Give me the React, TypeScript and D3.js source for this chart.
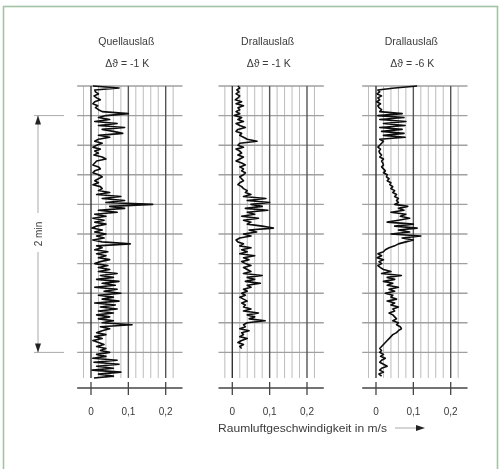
import React from "react";
import * as d3 from "d3";

// panel titles
const titles = ["Quellauslaß", "Drallauslaß", "Drallauslaß"];
const deltas = ["Δϑ = -1 K", "Δϑ = -1 K", "Δϑ = -6 K"];

// air velocity in m/s, one value per second (time runs downward)
const quellMinus1 = [
  0.005, 0.075, 0.01,
  0.012, 0.02, 0.008, 0.015, 0.025, 0.01, 0.005, 0.018, 0.012, 0.02,
  0.03, 0.1, 0.04, 0.02,
  0.05, 0.01, 0.07, 0.02, 0.09, 0.03, 0.06, 0.085, 0.02, 0.05,
  0.02, 0.01, 0.03, 0.015, 0.005, 0.025, 0.01, 0.02, 0.008,
  0.03, 0.04, 0.015,
  0.01, 0.005, 0.02, 0.025, 0.01, 0.005, 0.02, 0.03, 0.02, 0.01, 0.02, 0.005, 0.025, 0.03,
  0.02, 0.05, 0.015, 0.08, 0.03, 0.09, 0.04, 0.165, 0.05, 0.09, 0.02, 0.07, 0.01,
  0.04, 0.005, 0.035, 0.01, 0.04, 0.015, 0.003, 0.03, 0.01, 0.04, 0.015, 0.035, 0.005, 0.03,
  0.105, 0.015,
  0.03, 0.01, 0.045, 0.015, 0.04, 0.02, 0.05, 0.025, 0.01, 0.045, 0.02, 0.05,
  0.02, 0.07, 0.025, 0.06, 0.015, 0.075, 0.03, 0.065, 0.01, 0.07, 0.035, 0.08, 0.02, 0.06, 0.03, 0.075, 0.01, 0.065, 0.025, 0.07, 0.02, 0.06, 0.015,
  0.05, 0.02, 0.06, 0.03, 0.11, 0.025, 0.05,
  0.03, 0.015, 0.04, 0.01, 0.03, 0.005, 0.02, 0.035, 0.015, 0.04, 0.025, 0.05, 0.015, 0.04,
  0.005, 0.07, 0.008, 0.075, 0.015, 0.06, 0.003, 0.08, 0.02, 0.06, 0.008,
];

const drallMinus1 = [
  0.015, 0.02, 0.012, 0.018, 0.01, 0.02, 0.015,
  0.008, 0.025, 0.01, 0.03, 0.015, 0.02,
  0.01, 0.02, 0.005, 0.025, 0.015, 0.03, 0.01, 0.02, 0.035, 0.015, 0.01, 0.025, 0.02, 0.03,
  0.04, 0.066, 0.02,
  0.015, 0.03, 0.01, 0.02, 0.025, 0.015, 0.03, 0.02, 0.01, 0.025, 0.035, 0.02, 0.03, 0.025, 0.035, 0.03, 0.02, 0.025, 0.03, 0.02, 0.015, 0.025,
  0.03, 0.04, 0.035, 0.05,
  0.03, 0.09, 0.04, 0.1, 0.05, 0.08, 0.035, 0.095, 0.04,
  0.06, 0.025, 0.07, 0.03, 0.05, 0.04, 0.08, 0.11, 0.045, 0.065, 0.03, 0.05,
  0.02, 0.01, 0.015, 0.03, 0.02, 0.05, 0.025, 0.04, 0.02, 0.06, 0.03, 0.045, 0.025, 0.035, 0.05, 0.03, 0.04,
  0.05, 0.03, 0.08, 0.04, 0.06, 0.035, 0.075, 0.04, 0.05,
  0.03, 0.04, 0.025, 0.035, 0.02, 0.03, 0.04, 0.025, 0.035, 0.03,
  0.05, 0.03, 0.07, 0.04, 0.06, 0.045, 0.088,
  0.04, 0.03, 0.035, 0.02, 0.045, 0.025, 0.03, 0.02, 0.04, 0.025, 0.015, 0.03,
  0.02, 0.025,
];

const drallMinus6 = [
  0.11, 0.05, 0.005,
  0.01, 0.003, 0.015, 0.005, 0.01, 0.002, 0.012, 0.005, 0.008, 0.015,
  0.01, 0.07, 0.005, 0.075, 0.01, 0.08, 0.02, 0.078, 0.01, 0.07, 0.015, 0.075, 0.02, 0.078, 0.01, 0.02, 0.015,
  0.01, 0.005, 0.012, 0.008, 0.01, 0.015, 0.01, 0.02, 0.015, 0.018, 0.02, 0.015,
  0.02, 0.025, 0.02, 0.03, 0.028, 0.035, 0.03, 0.04, 0.037, 0.045, 0.04, 0.05, 0.045, 0.055, 0.05, 0.06, 0.055, 0.06,
  0.05, 0.085, 0.06, 0.075, 0.04, 0.08, 0.065, 0.09,
  0.06, 0.03, 0.1, 0.05, 0.11, 0.06, 0.09, 0.04, 0.12, 0.07, 0.1,
  0.08, 0.06, 0.05, 0.035, 0.025, 0.02,
  0.005, 0.015, 0.003, 0.02, 0.008, 0.015, 0.005, 0.012,
  0.02, 0.04, 0.015, 0.068, 0.03, 0.05, 0.02, 0.045, 0.03, 0.06, 0.035, 0.05, 0.025, 0.045, 0.04, 0.055, 0.03, 0.05, 0.04, 0.06, 0.045, 0.05, 0.035, 0.045,
  0.05, 0.055, 0.045, 0.06, 0.055, 0.065, 0.068, 0.06, 0.055, 0.045,
  0.04, 0.035, 0.03, 0.025, 0.02, 0.015, 0.01,
  0.015, 0.01, 0.02, 0.012, 0.025, 0.015, 0.01, 0.02, 0.03, 0.015, 0.01, 0.02, 0.008, 0.015,
];

const series = [quellMinus1, drallMinus1, drallMinus6];

const xTicks = [0, 0.1, 0.2];
const xTickLabels = ["0", "0,1", "0,2"];
const minorLines = [-0.02, 0.02, 0.04, 0.06, 0.08, 0.12, 0.14, 0.16, 0.18, 0.22];
const timeLines = [0, 15, 30, 45, 60, 75, 90, 105, 120, 135]; // seconds

export default function App() {
  const W = 501, H = 469;
  const y = d3.scaleLinear().domain([0, 150]).range([86, 382]);
  const panelX0 = [91, 232.3, 376];
  const gridBottom = y(148);
  const axisY = 388;
  const font = "Arial, 'Liberation Sans', sans-serif";
  const txt = "#3a3a3a";

  const line = (x: d3.ScaleLinear<number, number>) =>
    d3.line<number>()
      .x(d => x(d))
      .y((_, i) => y(i));

  return (
    <svg width={W} height={H} style={{position: "absolute", left: 0, top: 0, background: "#fff"}}>
      <defs>
        <filter id="soft" x="-5%" y="-5%" width="110%" height="110%">
          <feGaussianBlur stdDeviation="0.55"/>
        </filter>
      </defs>
      <rect x={0} y={0} width={W} height={H} fill="#fff"/>
      <rect x={3.5} y={6.5} width={494} height={470} fill="none" stroke="#a3c3a5" strokeWidth={1.6}/>

      <g filter="url(#soft)">
        {series.map((vals, p) => {
          const x = d3.scaleLinear().domain([0, 0.2]).range([panelX0[p], panelX0[p] + 74.7]);
          const cx = x(0.1);
          return (
            <g key={p}>
              <text x={cx - 2} y={45} textAnchor="middle" fontFamily={font} fontSize={10.5} fill={txt}>{titles[p]}</text>
              <text x={cx - 1} y={67} textAnchor="middle" fontFamily={font} fontSize={10.5} fill={txt}>{deltas[p]}</text>

              {minorLines.map(v => (
                <line key={"m" + v} x1={x(v)} x2={x(v)} y1={y(0)} y2={gridBottom} stroke="#bdbdbd" strokeWidth={1}/>
              ))}
              {timeLines.map(t => (
                <line key={"h" + t} x1={x(-0.037)} x2={x(0.245)} y1={y(t)} y2={y(t)} stroke="#a0a0a0" strokeWidth={1.4}/>
              ))}
              {xTicks.map(v => (
                <line key={"M" + v} x1={x(v)} x2={x(v)} y1={y(0)} y2={gridBottom} stroke={v === 0 ? "#333" : "#555"} strokeWidth={1.4}/>
              ))}

              <path d={line(x)(vals) || ""} fill="none" stroke="#0a0a0a" strokeWidth={1.6} strokeLinejoin="round"/>

              <line x1={x(-0.037)} x2={x(0.245)} y1={axisY} y2={axisY} stroke="#444" strokeWidth={1.4}/>
              {xTicks.map((v, i) => (
                <g key={"t" + v}>
                  <line x1={x(v)} x2={x(v)} y1={axisY - 6} y2={axisY + 7} stroke="#444" strokeWidth={1.3}/>
                  <text x={x(v)} y={415} textAnchor="middle" fontFamily={font} fontSize={10} fill={txt}>{xTickLabels[i]}</text>
                </g>
              ))}
            </g>
          );
        })}

        {/* 2 min marker */}
        <line x1={38} x2={38} y1={y(15)} y2={213} stroke="#aaa" strokeWidth={1}/>
        <line x1={38} x2={38} y1={252} y2={y(135)} stroke="#aaa" strokeWidth={1}/>
        <line x1={34} x2={64} y1={y(15)} y2={y(15)} stroke="#aaa" strokeWidth={1}/>
        <line x1={34} x2={64} y1={y(135)} y2={y(135)} stroke="#aaa" strokeWidth={1}/>
        <path d={`M38,${y(15)} l-3,9 h6 z`} fill="#222"/>
        <path d={`M38,${y(135)} l-3,-9 h6 z`} fill="#222"/>
        <text x={0} y={0} transform={`translate(41.5,${y(75)}) rotate(-90)`} textAnchor="middle" fontFamily={font} fontSize={10} fill={txt}>2 min</text>

        <text x={218} y={432} fontFamily={font} fontSize={11} fill={txt} textLength={169} lengthAdjust="spacingAndGlyphs">Raumluftgeschwindigkeit in m/s</text>
        <line x1={395} x2={416} y1={428} y2={428} stroke="#aaa" strokeWidth={1}/>
        <path d="M425,428 l-9,-3 v6 z" fill="#222"/>
      </g>
    </svg>
  );
}
